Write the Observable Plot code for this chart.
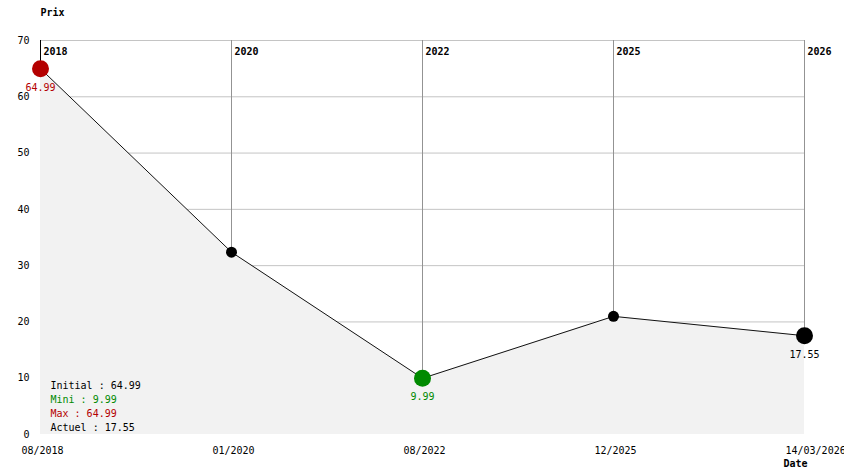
<!DOCTYPE html>
<html>
<head>
<meta charset="utf-8">
<script src="https://cdn.jsdelivr.net/npm/d3@7"></script>
<script src="https://cdn.jsdelivr.net/npm/@observablehq/plot@0.6"></script>
<style>
  html, body { margin: 0; padding: 0; background: #fff; }
  #chart svg { display: block; }
</style>
</head>
<body>
<div id="chart"></div>
<script>
// Price history
const dates  = ["08/2018", "01/2020", "08/2022", "12/2025", "14/03/2026"];
const years  = ["2018", "2020", "2022", "2025", "2026"];
const prices = [64.99, 32.4, 9.99, 20.99, 17.55];
const yTicks = [10, 20, 30, 40, 50, 60, 70];
const yLabels = [0, 10, 20, 30, 40, 50, 60, 70];

// Summary block
const summaryLabels = ["Initial", "Mini", "Max", "Actuel"];
const summaryValues = [64.99, 9.99, 64.99, 17.55];

const RED = "#b40000", GREEN = "#008a00", BLACK = "#000";

const rows = dates.map((d, i) => ({date: d, year: years[i], price: prices[i], i}));
const iMin = d3.minIndex(prices), iMax = d3.maxIndex(prices), iLast = prices.length - 1;
const big = new Set([iMin, iMax, iLast]);
const colorOf = (i) => i === iMax ? RED : i === iMin ? GREEN : BLACK;
const labelled = rows.filter(r => big.has(r.i));
const summaryColors = [BLACK, GREEN, RED, BLACK];

// one text mark per summary line, stacked upward from the bottom of the frame
const summaryMarks = summaryLabels.map((l, k) =>
  Plot.text([`${l} : ${summaryValues[k]}`], {
    frameAnchor: "bottom-left",
    textAnchor: "start",
    fill: summaryColors[k],
    dx: 10,
    dy: -4 - 14 * (summaryLabels.length - 1 - k)
  })
);

const chart = Plot.plot({
  width: 844,
  height: 474,
  marginTop: 40,
  marginRight: 40,
  marginBottom: 40,
  marginLeft: 40,
  style: {fontFamily: "'DejaVu Sans Mono', monospace", fontSize: "10px", background: "#fff", color: "#000"},
  x: {type: "point", domain: dates, padding: 0},
  y: {domain: [0, 70]},
  r: {type: "identity"},
  marks: [
    // horizontal grid
    Plot.ruleY(yTicks, {stroke: "#c4c4c4", strokeWidth: 1}),
    // shaded area under the price line
    Plot.areaY(rows, {x: "date", y: "price", fill: "#f2f2f2"}),
    // vertical drop lines from the top to each point
    Plot.ruleX(rows, {x: "date", y1: 70, y2: "price", stroke: d => d.i === 0 ? "#000" : "#939393", strokeWidth: 1}),
    // price line
    Plot.line(rows, {x: "date", y: "price", stroke: "#111", strokeWidth: 1}),
    // year labels along the top
    Plot.text(rows, {x: "date", y: 70, text: "year", textAnchor: "start", dx: 3, dy: 11, fontWeight: "bold", fill: "#000"}),
    // points
    Plot.dot(rows, {x: "date", y: "price", r: d => big.has(d.i) ? 8.5 : 5.5, fill: d => colorOf(d.i), stroke: "none"}),
    // value labels under the highlighted points
    Plot.text(labelled, {x: "date", y: "price", text: d => d.price.toFixed(2), dy: 19, fill: d => colorOf(d.i)}),
    // axes
    Plot.axisY(yLabels, {tickSize: 0, tickPadding: 11, label: null}),
    Plot.axisX({tickSize: 0, tickPadding: 12, textAnchor: "start", dx: -19, label: null}),
    // axis titles
    Plot.text(["Prix"], {frameAnchor: "top-left", dy: -32, textAnchor: "start", fontWeight: "bold"}),
    Plot.text(["Date"], {frameAnchor: "bottom-right", dy: 32, dx: -21, textAnchor: "start", fontWeight: "bold"}),
    // summary block
    ...summaryMarks
  ]
});

document.getElementById("chart").append(chart);
</script>
</body>
</html>
